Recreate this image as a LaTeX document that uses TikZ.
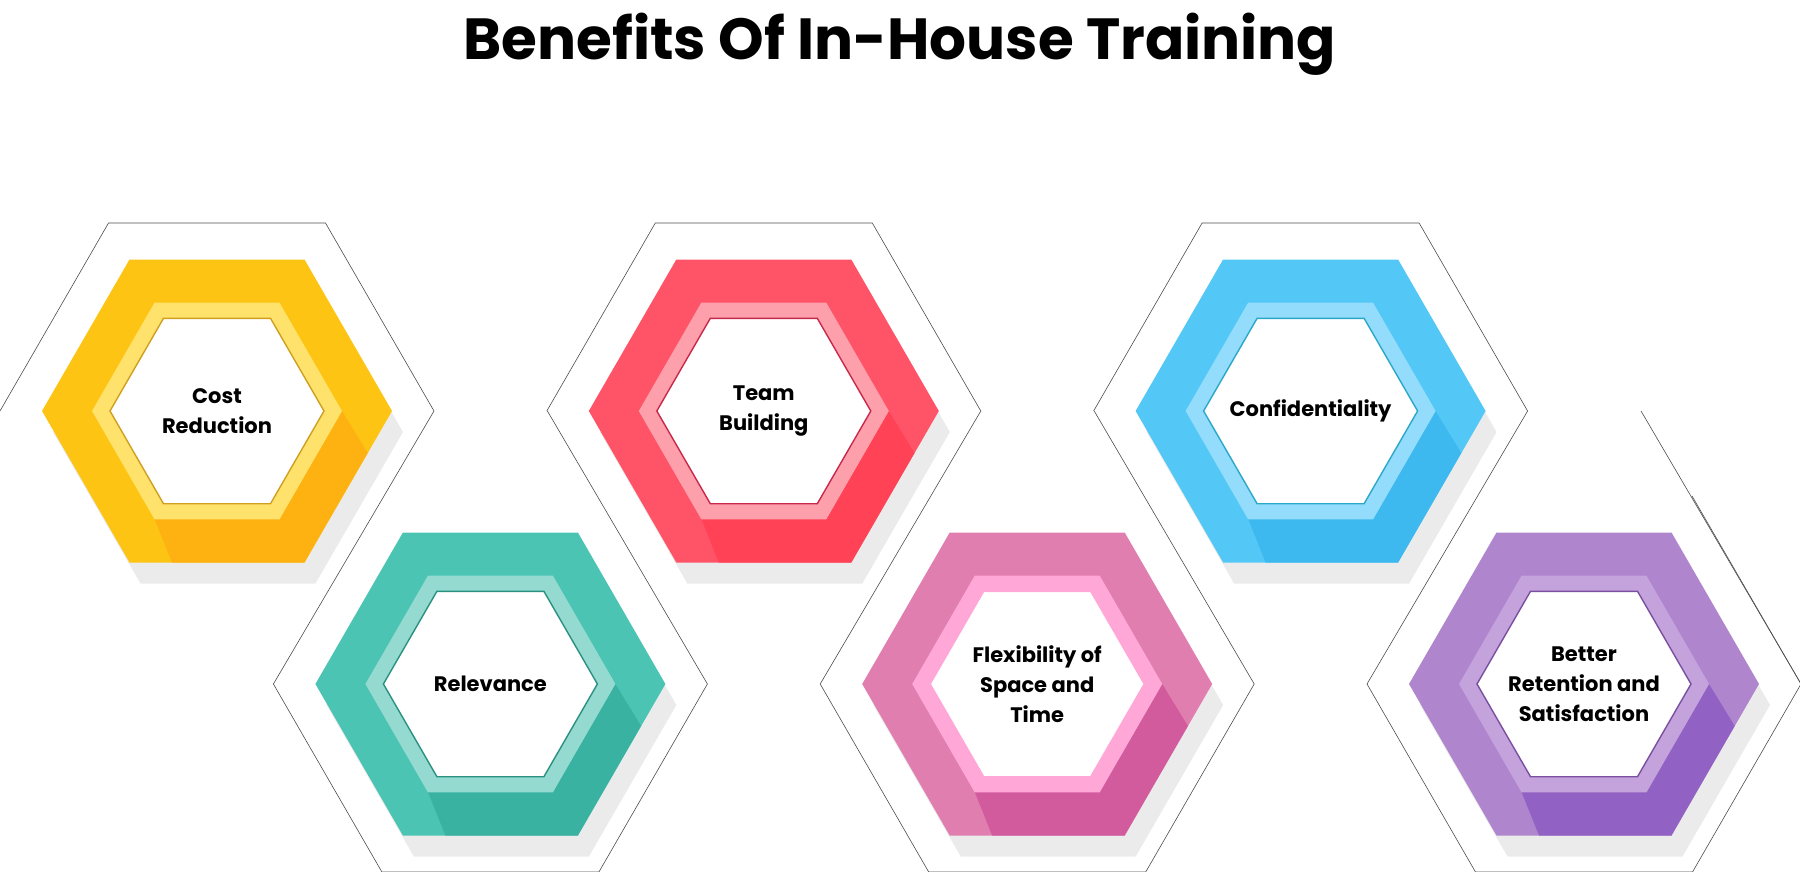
\documentclass[tikz,border=0pt]{standalone}
\usepackage{fontspec}
\setmainfont{Poppins}
\begin{document}
\begin{tikzpicture}[x=1pt,y=-1pt,
  outl/.style={draw=black!70,line width=0.6pt},
  lbl/.style={font=\bfseries\fontsize{21}{30}\selectfont,align=center,text=black}]
\definecolor{cA1}{HTML}{FDC413}\definecolor{cA2}{HTML}{FFE26B}\definecolor{cA3}{HTML}{CFA020}\definecolor{cA4}{HTML}{FDB012}
\definecolor{cB1}{HTML}{4CC4B3}\definecolor{cB2}{HTML}{94DAD0}\definecolor{cB3}{HTML}{2A9080}\definecolor{cB4}{HTML}{38B09E}
\definecolor{cC1}{HTML}{FF5468}\definecolor{cC2}{HTML}{FDA0AC}\definecolor{cC3}{HTML}{C8284A}\definecolor{cC4}{HTML}{FF3F52}
\definecolor{cD1}{HTML}{E07FAF}\definecolor{cD2}{HTML}{FFA8D8}\definecolor{cD3}{HTML}{FFA8D8}\definecolor{cD4}{HTML}{D0559A}
\definecolor{cE1}{HTML}{53C7F5}\definecolor{cE2}{HTML}{93DCFC}\definecolor{cE3}{HTML}{2BA7C9}\definecolor{cE4}{HTML}{3BB7F0}
\definecolor{cF1}{HTML}{AF86CD}\definecolor{cF2}{HTML}{C4A2DC}\definecolor{cF3}{HTML}{7A4FA0}\definecolor{cF4}{HTML}{8C5CC2}
\useasboundingbox (0,0) rectangle (1800,872);
\node[font=\bfseries\fontsize{58}{60}\selectfont] (title) at (900,44) {Benefits Of In-House Training};
\clip (0,0) rectangle (1800,872);
% outlines
\foreach \i in {0,2,4}{
  \pgfmathsetmacro\cx{217+273.4*\i}
  \pgfmathsetmacro\nx{217+273.4*(\i+1)}
  \draw[outl] ({\cx-217},411)--({\cx-108.5},223)--({\cx+108.5},223)--({\cx+217},411)--({\nx-217},684)
     --({\nx-108.5},872)--({\nx+108.5},872)--({\nx+217},684)--({\nx+217-160},411);
}
\draw[outl] (1801,684)--(1692,496);
% hexes
\foreach \i/\c/\t in {0/A/{Cost\\Reduction},1/B/{Relevance},2/C/{Team\\Building},3/D/{Flexibility of\\Space and\\Time},4/E/{Confidentiality},5/F/{Better\\Retention and\\Satisfaction}}{
  \pgfmathsetmacro\cx{217+273.4*\i}
  \pgfmathsetmacro\cy{ifthenelse(mod(\i,2)==0,411,684)}
  \begin{scope}[shift={(\cx,\cy)}]
    \fill[gray!16] (186,21)--(98.5,172.5)--(-76.5,172.5)--(-164,21)--(-76.5,-130.5)--(98.5,-130.5)--cycle;
    \fill[c\c1] (175,0)--(87.5,151.5)--(-87.5,151.5)--(-175,0)--(-87.5,-151.5)--(87.5,-151.5)--cycle;
    \fill[c\c4,opacity=0.85] (125,0)--(150.7,42)--(87.5,151.5)--(-45,151.5)--(-62.5,108)--(62.5,108)--cycle;
    \fill[c\c2] (125,0)--(62.5,108.3)--(-62.5,108.3)--(-125,0)--(-62.5,-108.3)--(62.5,-108.3)--cycle;
    \filldraw[fill=white,draw=c\c3,line width=1.4pt] (107,0)--(53.5,92.7)--(-53.5,92.7)--(-107,0)--(-53.5,-92.7)--(53.5,-92.7)--cycle;
  \end{scope}
  \node[lbl] (h\i) at (\cx,\cy) {\t};
}
\end{tikzpicture}
\end{document}
